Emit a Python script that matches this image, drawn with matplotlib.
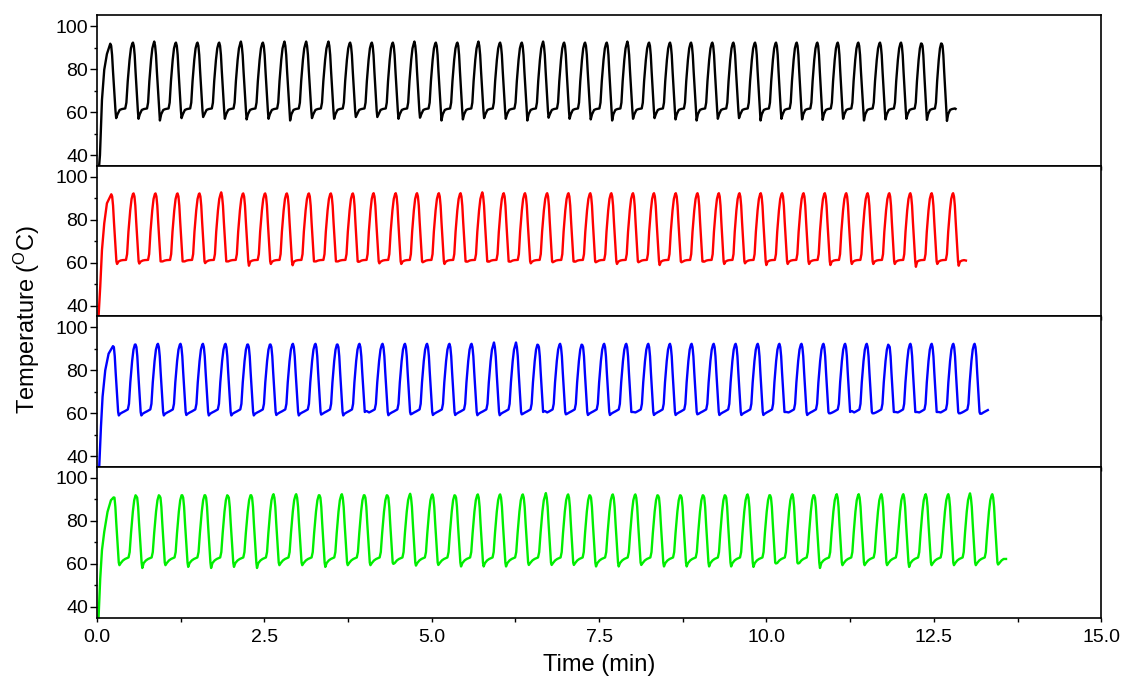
import matplotlib.pyplot as plt
from matplotlib.ticker import MultipleLocator

plt.rcParams['font.family'] = ['Liberation Sans', 'DejaVu Sans']
plt.rcParams['mathtext.fontset'] = 'custom'
plt.rcParams['mathtext.rm'] = 'Liberation Sans'
plt.rcParams['mathtext.it'] = 'Liberation Sans:italic'

# shape of one cycle, phase 0 = peak, 1 = next peak
phase_fall = [0.04, 0.08, 0.12, 0.185, 0.23]
phase_dip = 0.26
phase_rise = [0.32, 0.415, 0.51, 0.66, 0.71, 0.77, 0.85, 0.91, 0.97]
fall_T = [90.8, 86.5, 79.0, 68.0, 60.6]

# ---- panel 1 (black)
start_t_k = [0.03, 0.045, 0.075, 0.109, 0.149]
start_T_k = [34.0, 40.0, 65.7, 79.7, 87.0]
peak_t_k = [0.199, 0.538, 0.856, 1.180, 1.502, 1.826, 2.150, 2.479, 2.801, 3.125,
            3.458, 3.782, 4.106, 4.420, 4.742, 5.062, 5.384, 5.698, 6.022, 6.346,
            6.664, 6.978, 7.291, 7.615, 7.923, 8.247, 8.560, 8.874, 9.192, 9.506,
            9.830, 10.143, 10.452, 10.760, 11.065, 11.372, 11.696, 12.010, 12.319, 12.618]
peak_T_k = [91.8, 92.3, 92.8, 92.3, 92.3, 92.3, 92.8, 92.3, 92.8, 92.8,
            92.8, 92.3, 92.3, 92.3, 92.8, 92.3, 92.3, 92.8, 92.3, 92.3,
            92.8, 92.3, 92.3, 92.3, 92.8, 92.3, 92.3, 92.3, 92.3, 92.3,
            92.3, 92.3, 92.3, 92.3, 92.3, 92.3, 92.3, 92.3, 91.8, 91.8]
dip_T_k = [57.2, 56.9, 56.1, 57.2, 57.7, 56.9, 56.6, 56.9, 56.1, 57.2,
           56.9, 57.7, 57.7, 56.9, 57.4, 56.1, 56.6, 57.2, 56.9, 56.1,
           57.4, 56.9, 56.6, 56.1, 56.9, 57.2, 56.6, 56.1, 56.9, 57.2,
           56.1, 56.9, 56.6, 56.4, 56.9, 56.1, 56.6, 56.9, 56.4, 55.9]
rise_T_k = [59.0, 61.0, 61.4, 61.7, 64.4, 74.4, 84.3, 89.6, 91.9]
end_k = (12.825, 61.5)

# ---- panel 2 (red)
start_t_r = [0.024, 0.049, 0.075, 0.109, 0.149]
start_T_r = [35.0, 48.8, 65.9, 78.3, 87.6]
peak_t_r = [0.214, 0.547, 0.875, 1.204, 1.532, 1.856, 2.185, 2.513, 2.837, 3.166,
            3.494, 3.823, 4.132, 4.463, 4.781, 5.107, 5.431, 5.756, 6.076, 6.394,
            6.725, 7.043, 7.369, 7.683, 8.007, 8.320, 8.646, 8.970, 9.289, 9.597,
            9.915, 10.234, 10.554, 10.872, 11.192, 11.511, 11.835, 12.149, 12.468, 12.788]
peak_T_r = [91.8, 92.2, 92.2, 92.2, 92.2, 92.7, 92.2, 92.2, 92.2, 92.2,
            92.2, 92.2, 92.3, 92.3, 92.3, 92.3, 92.3, 92.7, 92.3, 92.3,
            92.3, 92.3, 92.3, 92.3, 92.3, 92.3, 92.3, 92.3, 92.3, 92.3,
            92.3, 92.3, 92.3, 92.3, 92.3, 92.3, 92.3, 92.3, 92.3, 92.3]
dip_T_r = [59.4, 59.6, 60.6, 60.6, 59.8, 60.6, 58.6, 59.4, 58.8, 60.6,
           60.6, 60.4, 59.7, 59.4, 60.2, 59.4, 60.5, 60.5, 60.5, 59.7,
           60.2, 60.5, 60.2, 59.4, 60.2, 58.9, 60.2, 60.5, 59.4, 59.7,
           58.9, 59.4, 59.4, 58.9, 59.4, 59.4, 59.4, 58.1, 59.4, 58.6]
rise_T_r = [60.5, 61.0, 61.2, 61.3, 64.0, 74.4, 84.3, 89.6, 91.9]
end_r = (12.979, 61.0)

# ---- panel 3 (blue)
start_t_b = [0.034, 0.06, 0.084, 0.124, 0.174]
start_T_b = [35.0, 53.8, 67.7, 80.0, 87.7]
peak_t_b = [0.239, 0.576, 0.911, 1.248, 1.583, 1.920, 2.255, 2.592, 2.927, 3.264,
            3.593, 3.921, 4.266, 4.601, 4.931, 5.265, 5.595, 5.930, 6.259, 6.588,
            6.918, 7.248, 7.576, 7.906, 8.235, 8.559, 8.882, 9.212, 9.540, 9.870,
            10.193, 10.523, 10.851, 11.175, 11.498, 11.828, 12.150, 12.468, 12.791, 13.109]
peak_T_b = [91.2, 92.0, 92.3, 92.3, 92.3, 92.3, 92.0, 92.0, 92.3, 92.3,
            92.0, 92.3, 92.3, 92.3, 92.3, 92.3, 92.3, 92.9, 92.9, 91.8,
            92.3, 91.8, 92.3, 92.3, 92.3, 92.3, 92.3, 92.3, 92.3, 92.3,
            92.3, 92.3, 92.3, 92.3, 92.3, 91.5, 92.3, 92.3, 92.3, 92.3]
dip_T_b = [59.0, 59.0, 59.0, 59.2, 59.0, 59.0, 59.0, 59.2, 59.0, 59.4,
           59.0, 61.0, 59.1, 59.5, 59.2, 59.2, 59.1, 59.1, 59.5, 61.0,
           59.5, 59.2, 59.2, 60.6, 59.2, 59.2, 59.5, 59.2, 59.2, 59.2,
           60.6, 59.2, 60.0, 61.0, 60.0, 60.6, 60.6, 60.6, 60.0, 59.8]
rise_T_b = [59.8, 60.4, 60.9, 61.8, 64.4, 74.4, 84.3, 89.6, 91.9]
end_b = (13.306, 61.5)

# ---- panel 4 (green)
start_t_g = [0.024, 0.049, 0.075, 0.109, 0.158, 0.209]
start_T_g = [35.0, 53.2, 66.4, 74.9, 84.2, 89.6]
peak_t_g = [0.248, 0.587, 0.935, 1.274, 1.617, 1.956, 2.304, 2.637, 2.976, 3.324,
            3.658, 3.996, 4.339, 4.678, 5.011, 5.350, 5.689, 6.022, 6.361, 6.705,
            7.038, 7.366, 7.705, 8.042, 8.381, 8.720, 9.058, 9.386, 9.718, 10.054,
            10.387, 10.711, 11.050, 11.378, 11.716, 12.044, 12.379, 12.716, 13.040, 13.373]
peak_T_g = [90.9, 91.5, 91.6, 91.9, 91.9, 91.6, 91.9, 92.4, 92.4, 91.9,
            92.4, 91.9, 91.8, 92.6, 92.3, 91.8, 92.3, 92.3, 92.3, 92.9,
            92.3, 91.8, 92.3, 92.3, 91.8, 91.8, 91.8, 91.8, 92.3, 91.9,
            92.4, 91.9, 92.4, 92.4, 92.4, 92.4, 92.4, 92.4, 92.8, 92.4]
dip_T_g = [59.4, 58.1, 59.4, 58.6, 58.1, 58.6, 58.1, 59.4, 59.4, 58.6,
           59.4, 59.4, 60.0, 59.2, 59.5, 58.8, 58.8, 58.8, 59.5, 59.5,
           59.5, 58.8, 58.8, 59.5, 58.8, 58.8, 58.8, 58.8, 58.6, 60.2,
           60.2, 58.1, 59.4, 59.4, 59.4, 58.6, 59.4, 59.4, 59.4, 59.7]
rise_T_g = [60.4, 61.6, 62.3, 63.0, 65.5, 74.4, 84.3, 89.6, 91.9]
end_g = (13.578, 62.3)


def build(start_t, start_T, peak_t, peak_T, dip_T, rise_T, end):
    t = list(start_t)
    T = list(start_T)
    n = len(peak_t)
    for i in range(n):
        t.append(peak_t[i])
        T.append(peak_T[i])
        if i + 1 < n:
            p = peak_t[i + 1] - peak_t[i]
        else:
            p = peak_t[i] - peak_t[i - 1]
        ph = phase_fall + [phase_dip] + phase_rise
        rise = [max(rise_T[0], dip_T[i])] + rise_T[1:]
        vals = fall_T + [dip_T[i]] + rise
        for f, v in zip(ph, vals):
            tt = peak_t[i] + f * p
            if i == n - 1 and tt >= end[0]:
                break
            t.append(tt)
            T.append(v)
    t.append(end[0])
    T.append(end[1])
    return t, T


series = [
    (build(start_t_k, start_T_k, peak_t_k, peak_T_k, dip_T_k, rise_T_k, end_k), 'black'),
    (build(start_t_r, start_T_r, peak_t_r, peak_T_r, dip_T_r, rise_T_r, end_r), '#ff0000'),
    (build(start_t_b, start_T_b, peak_t_b, peak_T_b, dip_T_b, rise_T_b, end_b), '#0000ff'),
    (build(start_t_g, start_T_g, peak_t_g, peak_T_g, dip_T_g, rise_T_g, end_g), '#00ee00'),
]

fig, axes = plt.subplots(4, 1, figsize=(11.26, 6.82), dpi=100, sharex=True)
fig.subplots_adjust(left=0.0861, right=0.978, top=0.9776, bottom=0.0943, hspace=0)

for ax, ((t, T), c) in zip(axes, series):
    ax.plot(t, T, color=c, lw=1.7)
    ax.set_ylim(35, 105)
    ax.set_xlim(0, 15)
    ax.yaxis.set_major_locator(MultipleLocator(20))
    ax.yaxis.set_minor_locator(MultipleLocator(10))
    ax.xaxis.set_major_locator(MultipleLocator(2.5))
    ax.xaxis.set_minor_locator(MultipleLocator(1.25))
    ax.tick_params(axis='y', which='major', direction='out', length=5, width=1,
                   pad=1.5, labelsize=14)
    ax.tick_params(axis='y', which='minor', direction='out', length=2.5, width=1)
    ax.tick_params(axis='x', which='both', direction='out', length=3, width=1,
                   pad=5, labelsize=14)
    for s in ax.spines.values():
        s.set_linewidth(1.2)

for ax in axes[:-1]:
    ax.tick_params(labelbottom=False)

axes[-1].set_xlabel('Time (min)', fontsize=17, labelpad=6)
axes[-1].xaxis.set_major_formatter(plt.FuncFormatter(lambda v, p: '%.1f' % v))
fig.text(0.024, 0.531, r'Temperature ($^{\mathrm{O}}$C)', rotation=90,
         fontsize=17, ha='center', va='center')

fig.savefig('out.png', dpi=100)
